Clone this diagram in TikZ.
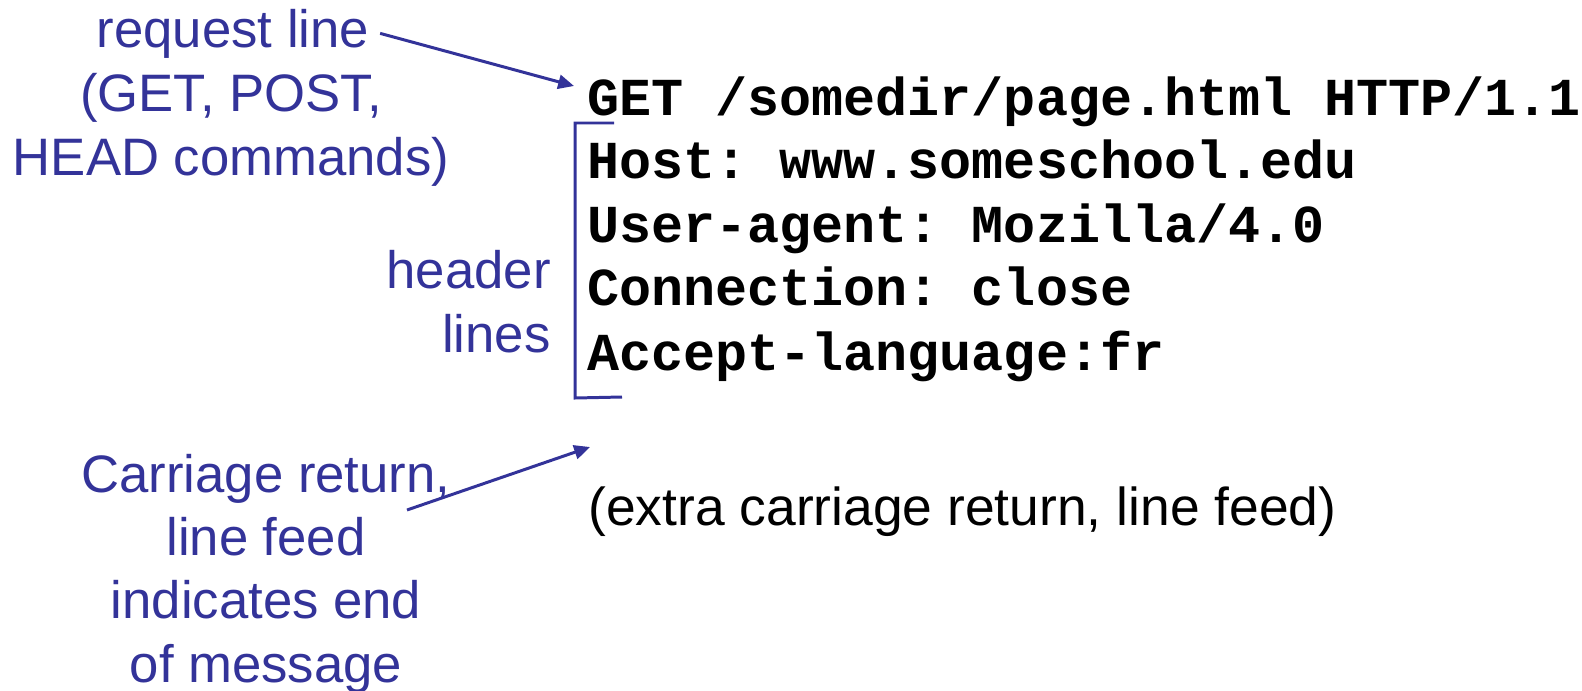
\documentclass[tikz,border=0pt]{standalone}
\usepackage{fontspec}
\setmainfont{Liberation Sans}
\setmonofont{Liberation Mono}
\usetikzlibrary{arrows.meta}
\definecolor{noteblue}{RGB}{51,51,153}
\tikzset{
	note/.style={font=\fontsize{30}{36}\selectfont,text=noteblue,align=center,inner sep=0pt},
	msgline/.style={font=\ttfamily\bfseries\fontsize{30.4}{36}\selectfont,anchor=base west,inner sep=0pt},
	pointer/.style={draw=noteblue,line width=1.7pt,-{Triangle[length=9pt,width=8pt]}}
}
\begin{document}
\begin{tikzpicture}[x=0.02cm,y=-0.02cm]
	\useasboundingbox (0,0) rectangle (1582,690);
	% left side notes (base = last line)
	\node [note,anchor=base] (reqline) at (233,47) {request line};
	\node [note,anchor=base] (cmds) at (231,175) {(GET, POST,\\HEAD commands)};
	\node [note,align=right,anchor=base east] (hdr) at (551,352) {header\\lines};
	\node [note,anchor=base] (endmsg) at (266,682) {Carriage return,\\line feed\\indicates end\\of message};
	% the message itself
	\node [msgline] (getline) at (587,115) {GET /somedir/page.html HTTP/1.1};
	\node [msgline] (hostline) at (587,178) {Host: www.someschool.edu};
	\node [msgline] (agentline) at (587,242) {User-agent: Mozilla/4.0};
	\node [msgline] (connline) at (587,305) {Connection: close};
	\node [msgline] (langline) at (587,370) {Accept-language:fr};
	\node [anchor=base west,inner sep=0pt,font=\fontsize{30.4}{36}\selectfont] (extra) at (588,525) {(extra carriage return, line feed)};
	% bracket round the header lines
	\draw [noteblue,line width=1.7pt] (614,123) -- (575,123) -- (575,398) -- (622,397);
	% arrows
	\coordinate (getpt) at (574,86);
	\coordinate (crstart) at (407,510);
	\coordinate (blankpt) at (590,447);
	\draw [pointer] ([xshift=6pt]reqline.east) -- (getpt);
	\draw [pointer] (crstart) -- (blankpt);
\end{tikzpicture}
\end{document}
